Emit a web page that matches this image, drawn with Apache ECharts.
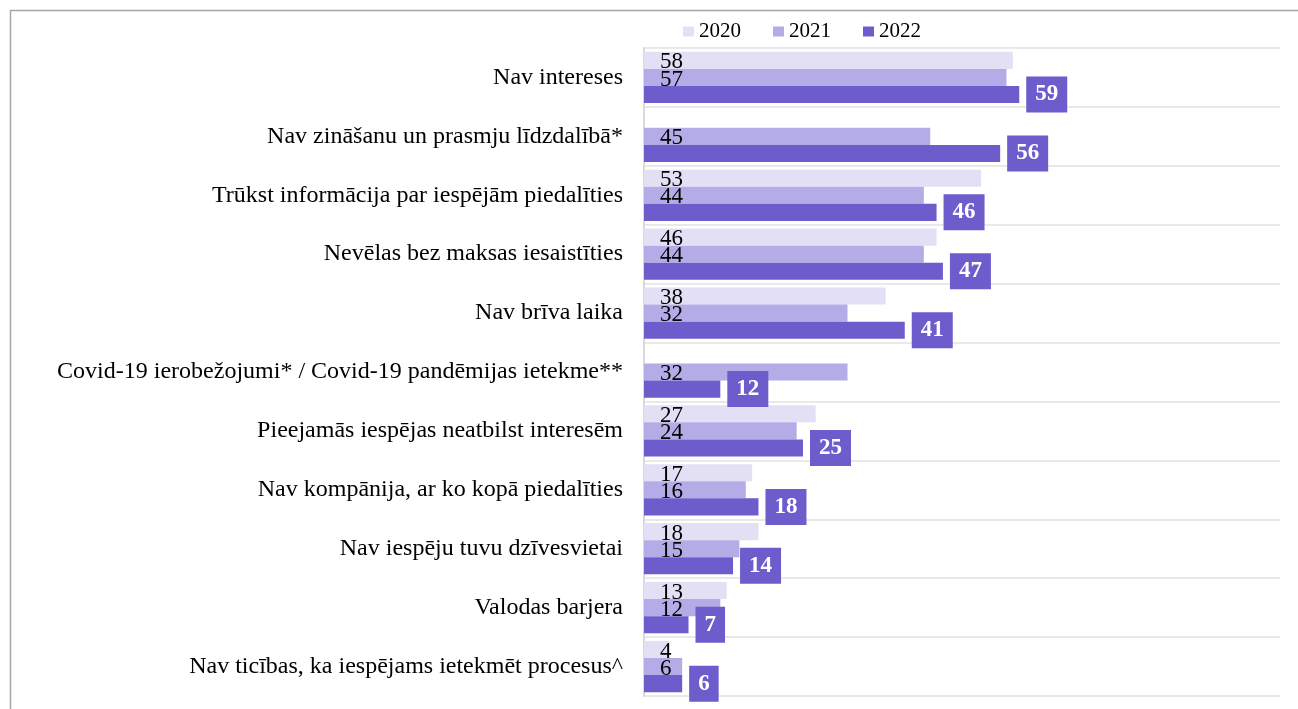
<!DOCTYPE html>
<html>
<head>
    <meta charset="utf-8">
    <title>ECharts</title>
    <script src="https://cdn.jsdelivr.net/npm/echarts@6/dist/echarts.min.js"></script>
    <style>
        html, body { margin: 0; padding: 0; background: #fff; }
    </style>
</head>
<body>
    <div id="main" style="width: 1298px;height:709px;"></div>
    <script type="text/javascript">
        // kategorijas (no augšas uz leju)
        var categories = [
            'Nav intereses',
            'Nav zināšanu un prasmju līdzdalībā*',
            'Trūkst informācija par iespējām piedalīties',
            'Nevēlas bez maksas iesaistīties',
            'Nav brīva laika',
            'Covid-19 ierobežojumi* / Covid-19 pandēmijas ietekme**',
            'Pieejamās iespējas neatbilst interesēm',
            'Nav kompānija, ar ko kopā piedalīties',
            'Nav iespēju tuvu dzīvesvietai',
            'Valodas barjera',
            'Nav ticības, ka iespējams ietekmēt procesus^'
        ];
        var years = ['2020', '2021', '2022'];
        var data2020 = [58, '-', 53, 46, 38, '-', 27, 17, 18, 13, 4];
        var data2021 = [57, 45, 44, 44, 32, 32, 24, 16, 15, 12, 6];
        var data2022 = [59, 56, 46, 47, 41, 12, 25, 18, 14, 7, 6];

        var font = 'Liberation Serif';
        var colors = ['#e3e0f5', '#b4ace6', '#6c5ccc'];

        var myChart = echarts.init(document.getElementById('main'));

        var plainLabel = {
            show: true,
            position: 'insideLeft',
            distance: 16,
            offset: [0, 2],
            color: '#000',
            fontFamily: font,
            fontSize: 23
        };

        myChart.setOption({
            animation: false,
            color: colors,
            textStyle: { fontFamily: font },
            graphic: [{
                type: 'polyline',
                shape: { points: [[10.5, 709], [10.5, 10.5], [1298, 10.5]] },
                style: { stroke: '#a6a6a6', lineWidth: 1.5, fill: null }
            }],
            legend: {
                data: years,
                left: 683,
                top: 21,
                padding: 0,
                icon: 'rect',
                itemWidth: 11,
                itemHeight: 10,
                itemGap: 32,
                textStyle: { fontFamily: font, fontSize: 21, color: '#000' }
            },
            grid: {
                left: 644,
                right: 18,
                top: 48,
                bottom: 13
            },
            xAxis: {
                type: 'value',
                min: 0,
                max: 100,
                axisLabel: { show: false },
                axisLine: { show: false },
                axisTick: { show: false },
                splitLine: { show: false }
            },
            yAxis: {
                type: 'category',
                data: categories,
                inverse: true,
                axisTick: { show: false },
                axisLine: { show: true, lineStyle: { color: '#d9d9d9', width: 2 } },
                splitLine: { show: true, lineStyle: { color: '#e2e2e2', width: 1.5 } },
                axisLabel: {
                    margin: 21,
                    color: '#000',
                    fontFamily: font,
                    fontSize: 24
                }
            },
            series: [{
                name: '2020',
                type: 'bar',
                data: data2020,
                barGap: '0%',
                barCategoryGap: '13%',
                label: plainLabel
            }, {
                name: '2021',
                type: 'bar',
                data: data2021,
                barGap: '0%',
                barCategoryGap: '13%',
                label: plainLabel
            }, {
                name: '2022',
                type: 'bar',
                data: data2022,
                barGap: '0%',
                barCategoryGap: '13%',
                label: {
                    show: true,
                    position: 'right',
                    distance: 7,
                    color: '#fff',
                    fontFamily: font,
                    fontSize: 23,
                    fontWeight: 'bold',
                    lineHeight: 20,
                    backgroundColor: '#6c5ccc',
                    padding: [8, 9]
                }
            }]
        });
    </script>
</body>
</html>
